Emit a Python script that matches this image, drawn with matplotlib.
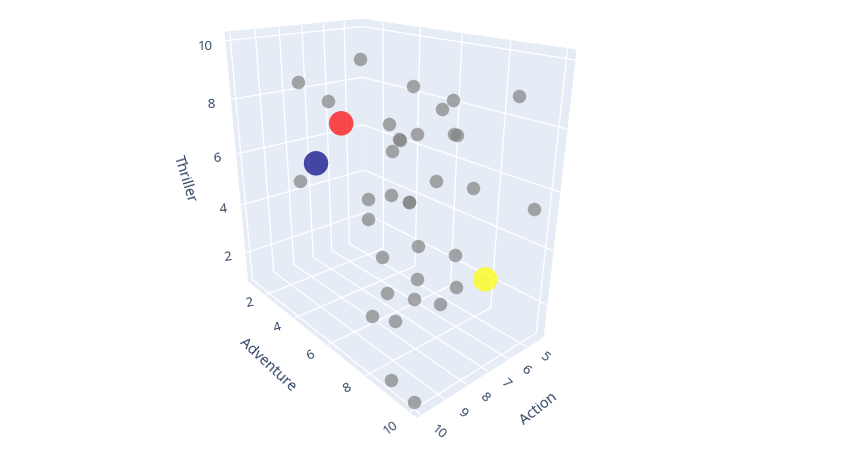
import numpy as np, matplotlib
matplotlib.use('Agg')
import matplotlib.pyplot as plt
from mpl_toolkits.mplot3d import Axes3D

# ---- data ----
action = [6.88,8.73,7.13,8.04,6.62,6.81,5.31,7.13,7.13,7.13,7.13,6.57,6.52,7.13,6.88,6.15,8.81,7.13,7.13,7.13,7.13,4.7,7.13,7.13,7.45,6.44,7.49,6.4,8.33,8.06,7.38,9.04,8.82,9.93,9.98]
adventure = [3.95,2.89,6.77,3.63,7.97,7.72,9.35,5.7,7,6.18,6.23,8.04,8.11,5.85,7.63,8.54,2.78,4.58,5.79,6.69,6.69,9.82,4.58,7.14,5.69,8.2,7.5,8.25,6.93,7.97,8.46,6.99,7.88,8.92,9.97]
thriller = [9.47,8.78,9.07,8.18,8.8,8.51,8.98,7.66,7.65,7.28,7.27,7.77,7.77,6.82,6.25,6.11,5.26,4.72,5.26,5.3,5.3,5.46,3.95,3.9,2.98,3.77,2.96,2.59,2.47,2.64,2.45,1.93,2.11,1.06,0.99]
hi_action = [7.73,8.4,5.76]
hi_adventure = [3.91,3.25,8.94]
hi_thriller = [7.41,5.95,2.96]
hi_colors = ['red','navy','yellow']
action_ticks = [5,6,7,8,9,10]
adventure_ticks = [2,4,6,8,10]
thriller_ticks = [2,4,6,8,10]
action_rot = [-40,-42,-45,-45,-42,-40]
adventure_rot = [12,18,24,28,36]
thriller_rot = [8,6,4,2,0]

INK = '#2a3f5f'
plt.rcParams['font.family'] = ['Open Sans', 'DejaVu Sans']
plt.rcParams['grid.color'] = 'white'
plt.rcParams['grid.linewidth'] = 0.95

W, H = 862, 449
fig = plt.figure(figsize=(W/100, H/100), dpi=100, facecolor='white')
ax = fig.add_axes([0, 0, 1, 1], projection='3d')
ax.set_xlim(4.096, 10.164, view_margin=0)
ax.set_ylim(0.709, 10.27, view_margin=0)
ax.set_zlim(0.754, 10.27, view_margin=0)
ax.set_box_aspect((1, 1.6631, 1.6443))
ax.view_init(elev=21.665, azim=49.8206, roll=0)
ax.set_proj_type('persp', focal_length=0.2636)

# place axes so the projected cube lands where the reference has it
S, TX, TY = 2308.10, 384.74, 185.08
(x0, y0), (x1, y1) = ax.transLimits.inverted().transform([[0, 0], [1, 1]])
ax.set_position([(TX + S*x0)/W, (H - TY + S*y0)/H, S*(x1-x0)/W, S*(y1-y0)/H])

for axis in (ax.xaxis, ax.yaxis, ax.zaxis):
    axis.set_pane_color('#E5ECF6')
    axis.pane.set_edgecolor('#E5ECF6')
    axis.line.set_color((0, 0, 0, 0))
    axis.set_rotate_label(False)
ax.tick_params(colors=INK, color=(0, 0, 0, 0), labelsize=9.5, pad=3)
ax.set_xticks(action_ticks); ax.set_yticks(adventure_ticks); ax.set_zticks(thriller_ticks)
ax.set_xlabel('Action', color=INK, fontsize=10.5, rotation=38, labelpad=14)
ax.set_ylabel('Adventure', color=INK, fontsize=10.5, rotation=-43, labelpad=14)
ax.set_zlabel('Thriller', color=INK, fontsize=10.5, rotation=-73, labelpad=14)

def nudge(text, dx, dy):
    """Shift a 3D axis text by pixels each time mplot3d positions it."""
    place = text.set_position
    text.set_position = lambda xy: place((xy[0] + dx/S, xy[1] + dy/S))

for axis, rots, tick_off, title_off in (
        (ax.xaxis, action_rot, (2, 24), (3, 57)),
        (ax.yaxis, adventure_rot, (-8.5, 18), (-23, 40)),
        (ax.zaxis, thriller_rot, (-1, 0), (4, -20))):
    for t, r in zip(axis.get_major_ticks(), rots):
        t.label1.set_rotation(r)
        nudge(t.label1, *tick_off)
    nudge(axis.label, *title_off)

ax.computed_zorder = False
ax.scatter(action, adventure, thriller, s=94, c='#828282', alpha=0.7, linewidths=0, depthshade=False, clip_on=False)
ax.scatter(hi_action, hi_adventure, hi_thriller, s=311, c=hi_colors, alpha=0.7, linewidths=0, depthshade=False, clip_on=False)

fig.savefig('out.png', dpi=100)
